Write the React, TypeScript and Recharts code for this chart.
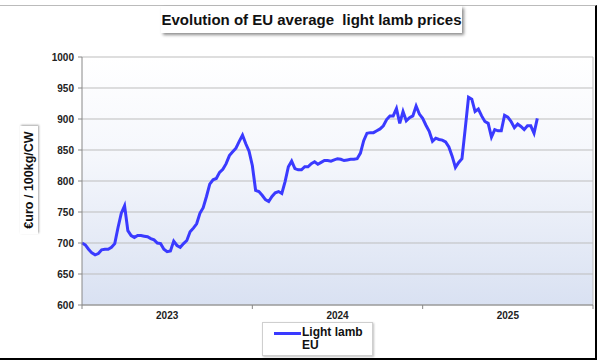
import React from 'react';
import { LineChart, Line, XAxis, YAxis, CartesianGrid, ReferenceLine, Legend } from 'recharts';

const FONT = 'Arial, "Liberation Sans", sans-serif';
const LINE_COLOR = '#3a3aff';

const years = ['2023', '2024', '2025'];
const weeksPerYear = 52;

// weekly EU light lamb price, €/100kg CW
const prices2023 = [
  700, 697, 690, 684, 681, 683, 689, 690, 690, 693,
  699, 725, 748, 760, 720, 712, 709, 712, 712, 711,
  710, 707, 705, 700, 699, 690, 686, 687, 703, 696,
  693, 699, 704, 718, 724, 731, 748, 757, 775, 795,
  802, 804, 814, 819, 828, 841, 847, 853, 864, 874,
  860, 848,
];
const prices2024 = [
  825, 785, 783, 777, 770, 767, 775, 781, 783, 780,
  799, 823, 832, 820, 818, 818, 823, 823, 828, 831,
  827, 830, 833, 833, 832, 834, 836, 835, 833, 834,
  835, 835, 836, 845, 865, 877, 878, 878, 881, 884,
  889, 899, 905, 905, 917, 893, 912, 897, 902, 905,
  921, 908,
];
const prices2025 = [
  901, 890, 880, 864, 869, 867, 866, 863, 855, 840,
  822, 830, 836, 885, 935, 932, 912, 916, 905, 896,
  893, 871, 883, 881, 881, 906, 903, 896, 886, 892,
  888, 883, 889, 889, 877, 901,
];

const yTicks = [600, 650, 700, 750, 800, 850, 900, 950, 1000];
const yearBounds = [0, 52, 104, 156];
const yearMids = [26, 78, 130];

const data = [prices2023, prices2024, prices2025].flatMap((arr, y) =>
  arr.map((price, w) => ({ week: y * weeksPerYear + w, price }))
);

function LegendBox() {
  return (
    <div
      style={{
        width: 109,
        height: 32,
        border: '1px solid #cfcfcf',
        boxShadow: '1px 1px 2px rgba(0,0,0,0.25)',
        background: '#fff',
        position: 'relative',
        fontFamily: FONT,
        fontWeight: 'bold',
        fontSize: 12,
        color: '#111',
        textAlign: 'left',
      }}
    >
      <div style={{ position: 'absolute', left: 11, top: 9, width: 27, height: 3, background: LINE_COLOR }} />
      <div style={{ position: 'absolute', left: 39, top: 3, lineHeight: '13px' }}>Light lamb</div>
      <div style={{ position: 'absolute', left: 39, top: 16, lineHeight: '13px' }}>EU</div>
    </div>
  );
}

export default function App() {
  const tickStyle = { fill: '#222', fontSize: 10, fontWeight: 'bold', fontFamily: FONT };
  return (
    <div style={{ position: 'absolute', left: 0, top: 0, width: 600, height: 361, background: '#fff' }}>
      <div
        style={{
          position: 'absolute',
          left: 0,
          top: 5,
          width: 595,
          height: 352,
          borderTop: '1px solid #bbb',
          borderRight: '2px solid #000',
          borderBottom: '2px solid #000',
        }}
      />
      <LineChart
        width={600}
        height={361}
        data={data}
        margin={{ top: 57, right: 7, left: 22, bottom: 26 }}
        style={{ position: 'absolute', left: 0, top: 0 }}
      >
        <defs>
          <linearGradient id="plotBg" x1="0" y1="0" x2="0" y2="1">
            <stop offset="0%" stopColor="#ffffff" />
            <stop offset="40%" stopColor="#f5f7fc" />
            <stop offset="100%" stopColor="#d9e1f2" />
          </linearGradient>
        </defs>
        <CartesianGrid vertical={false} stroke="#bdbdbd" fill="url(#plotBg)" />
        <XAxis
          dataKey="week"
          type="number"
          domain={[0, 156]}
          ticks={yearBounds}
          tickFormatter={() => ''}
          tickSize={4}
          height={4}
          stroke="#888"
        />
        <XAxis
          xAxisId="yr"
          dataKey="week"
          type="number"
          domain={[0, 156]}
          ticks={yearMids}
          tickFormatter={(v: number) => years[Math.floor(v / weeksPerYear)]}
          axisLine={false}
          tickLine={false}
          tickSize={0}
          tickMargin={3}
          height={26}
          tick={tickStyle}
        />
        <YAxis
          domain={[600, 1000]}
          ticks={yTicks}
          width={60}
          tickSize={4}
          tickMargin={4}
          stroke="#888"
          tick={tickStyle}
        />
        <ReferenceLine x={156} stroke="#bdbdbd" />
        <Line
          type="linear"
          dataKey="price"
          name="Light lamb EU"
          stroke={LINE_COLOR}
          strokeWidth={3}
          dot={false}
          isAnimationActive={false}
        />
        <Legend
          layout="vertical"
          align="center"
          verticalAlign="middle"
          content={() => <LegendBox />}
          wrapperStyle={{ left: 262, top: 322, bottom: 'auto', width: 'auto' }}
        />
      </LineChart>
      <div
        style={{
          position: 'absolute',
          left: 161,
          top: 6,
          width: 301,
          height: 27,
          background: '#fff',
          boxShadow: '2px 2px 3px rgba(0,0,0,0.45)',
          fontFamily: FONT,
          fontWeight: 'bold',
          fontSize: 15,
          lineHeight: '27px',
          textAlign: 'center',
          whiteSpace: 'pre',
          color: '#111',
        }}
      >
        Evolution of EU average  light lamb prices
      </div>
      <div
        style={{
          position: 'absolute',
          left: 29 - 54,
          top: 180 - 9,
          width: 108,
          height: 18,
          background: '#fff',
          boxShadow: '1px 1px 2px rgba(0,0,0,0.35)',
          transform: 'rotate(-90deg)',
          fontFamily: FONT,
          fontWeight: 'bold',
          fontSize: 12.5,
          lineHeight: '18px',
          textAlign: 'center',
          whiteSpace: 'nowrap',
          color: '#111',
        }}
      >
        €uro / 100kg/CW
      </div>
    </div>
  );
}
